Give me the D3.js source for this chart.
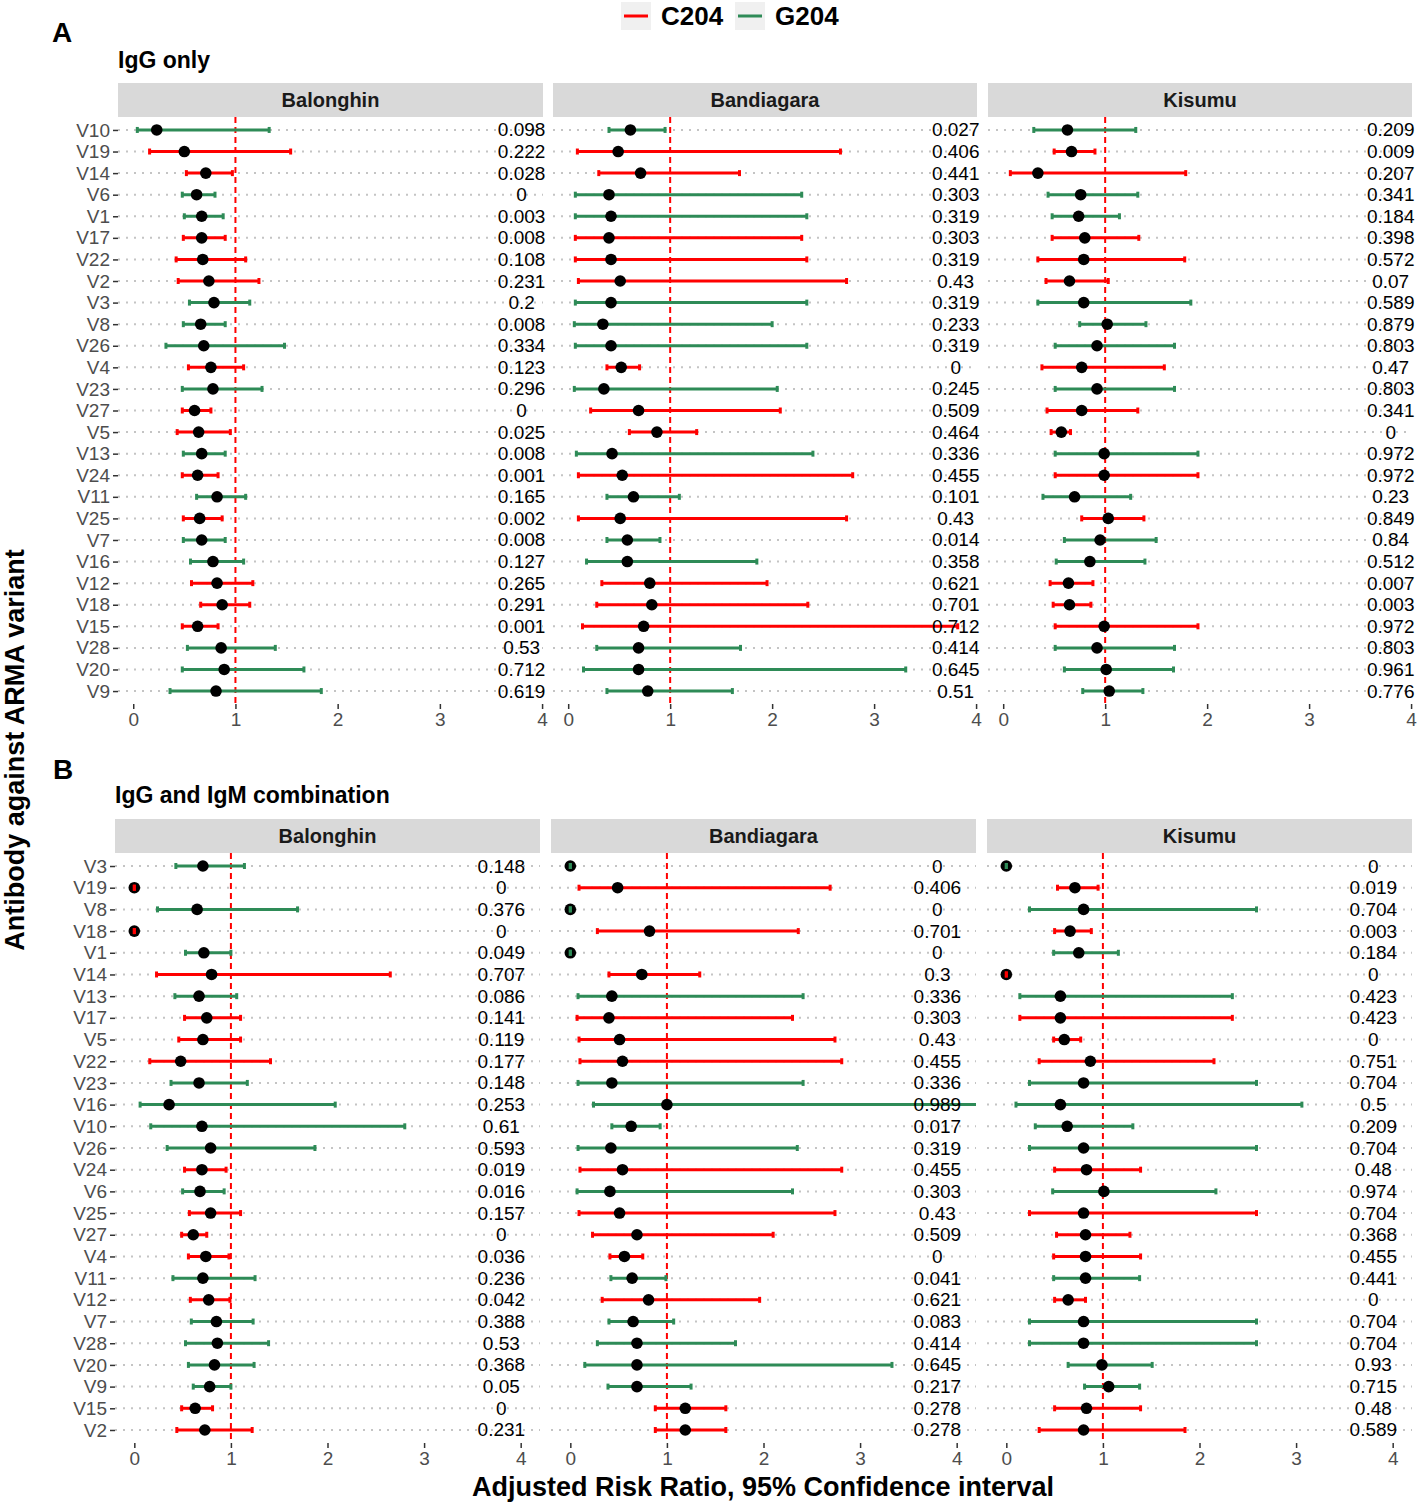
<!DOCTYPE html>
<html>
<head>
<meta charset="utf-8">
<script src="https://cdn.jsdelivr.net/npm/d3@7"></script>
<style>
  body { margin: 0; background: #fff; }
  text { font-family: "Liberation Sans", Arial, Helvetica, sans-serif; }
</style>
</head>
<body>
<div id="chart"></div>
<script>
// ---- data ----
const variantsA = ["V10","V19","V14","V6","V1","V17","V22","V2","V3","V8","V26","V4","V23","V27","V5","V13","V24","V11","V25","V7","V16","V12","V18","V15","V28","V20","V9"];
const variantsB = ["V3","V19","V8","V18","V1","V14","V13","V17","V5","V22","V23","V16","V10","V26","V24","V6","V25","V27","V4","V11","V12","V7","V28","V20","V9","V15","V2"];
// variants carrying the C204 allele, the rest are G204
const c204Variants = ["V19","V14","V17","V22","V2","V4","V27","V5","V24","V25","V12","V18","V15"];
const sites = ["Balonghin","Bandiagara","Kisumu"];
const xTicks = [0,1,2,3,4];

// A: IgG only
const aBalonghinRR = [0.23,0.50,0.71,0.62,0.67,0.67,0.68,0.74,0.79,0.66,0.69,0.76,0.78,0.60,0.64,0.67,0.63,0.82,0.65,0.67,0.78,0.82,0.87,0.63,0.86,0.89,0.81];
const aBalonghinLo = [0.04,0.16,0.52,0.48,0.50,0.49,0.42,0.44,0.55,0.49,0.32,0.54,0.48,0.48,0.43,0.49,0.48,0.62,0.49,0.49,0.56,0.57,0.66,0.48,0.53,0.48,0.36];
const aBalonghinHi = [1.33,1.54,0.97,0.80,0.88,0.90,1.10,1.23,1.14,0.90,1.48,1.08,1.26,0.76,0.95,0.90,0.83,1.10,0.87,0.90,1.08,1.17,1.14,0.83,1.39,1.67,1.84];
const aBalonghinP  = ["0.098","0.222","0.028","0","0.003","0.008","0.108","0.231","0.2","0.008","0.334","0.123","0.296","0","0.025","0.008","0.001","0.165","0.002","0.008","0.127","0.265","0.291","0.001","0.53","0.712","0.619"];

const aBandiagaraRR = [0.61,0.49,0.71,0.40,0.42,0.40,0.42,0.51,0.42,0.34,0.42,0.52,0.35,0.69,0.87,0.43,0.53,0.64,0.51,0.58,0.58,0.80,0.82,0.74,0.69,0.69,0.78];
const aBandiagaraLo = [0.40,0.09,0.30,0.07,0.07,0.07,0.07,0.10,0.07,0.06,0.07,0.38,0.06,0.22,0.60,0.08,0.10,0.38,0.10,0.38,0.18,0.33,0.28,0.14,0.28,0.15,0.38];
const aBandiagaraHi = [0.95,2.67,1.68,2.29,2.34,2.29,2.34,2.73,2.34,2.00,2.34,0.70,2.05,2.08,1.26,2.40,2.79,1.09,2.73,0.90,1.85,1.95,2.35,3.82,1.69,3.31,1.61];
const aBandiagaraP  = ["0.027","0.406","0.441","0.303","0.319","0.303","0.319","0.43","0.319","0.233","0.319","0","0.245","0.509","0.464","0.336","0.455","0.101","0.43","0.014","0.358","0.621","0.701","0.712","0.414","0.645","0.51"];

const aKisumuRR = [0.63,0.67,0.34,0.76,0.74,0.80,0.79,0.65,0.79,1.02,0.92,0.77,0.92,0.77,0.57,0.99,0.99,0.70,1.03,0.95,0.85,0.64,0.65,0.99,0.92,1.01,1.04];
const aKisumuLo = [0.30,0.50,0.07,0.44,0.48,0.48,0.34,0.42,0.34,0.75,0.51,0.38,0.51,0.43,0.47,0.51,0.51,0.39,0.77,0.60,0.52,0.46,0.49,0.51,0.51,0.60,0.78];
const aKisumuHi = [1.30,0.90,1.79,1.32,1.14,1.33,1.78,1.03,1.84,1.40,1.68,1.58,1.68,1.32,0.66,1.91,1.91,1.25,1.38,1.50,1.39,0.88,0.86,1.91,1.68,1.67,1.37];
const aKisumuP  = ["0.209","0.009","0.207","0.341","0.184","0.398","0.572","0.07","0.589","0.879","0.803","0.47","0.803","0.341","0","0.972","0.972","0.23","0.849","0.84","0.512","0.007","0.003","0.972","0.803","0.961","0.776"];

// B: IgG and IgM combination
const bBalonghinRR = [0.71,0,0.65,0,0.72,0.80,0.67,0.75,0.71,0.48,0.67,0.36,0.70,0.79,0.70,0.68,0.79,0.61,0.74,0.71,0.77,0.85,0.86,0.83,0.78,0.63,0.73];
const bBalonghinLo = [0.43,0,0.24,0,0.53,0.23,0.42,0.52,0.46,0.16,0.38,0.06,0.17,0.34,0.52,0.50,0.57,0.49,0.56,0.40,0.58,0.59,0.53,0.56,0.61,0.49,0.44];
const bBalonghinHi = [1.14,0,1.69,0,1.00,2.65,1.06,1.10,1.10,1.41,1.17,2.08,2.80,1.87,0.95,0.93,1.10,0.75,0.98,1.25,0.99,1.23,1.39,1.24,1.00,0.81,1.22];
const bBalonghinP  = ["0.148","0","0.376","0","0.049","0.707","0.086","0.141","0.119","0.177","0.148","0.253","0.61","0.593","0.019","0.016","0.157","0","0.036","0.236","0.042","0.388","0.53","0.368","0.05","0","0.231"];

const bBandiagaraRR = [0,0.49,0,0.82,0,0.74,0.43,0.40,0.51,0.54,0.43,1.00,0.63,0.42,0.54,0.41,0.51,0.69,0.56,0.64,0.81,0.65,0.69,0.69,0.69,1.19,1.19];
const bBandiagaraLo = [0,0.09,0,0.28,0,0.40,0.08,0.07,0.09,0.10,0.08,0.24,0.43,0.08,0.10,0.07,0.09,0.23,0.41,0.42,0.33,0.40,0.28,0.15,0.39,0.88,0.88];
const bBandiagaraHi = [0,2.69,0,2.36,0,1.34,2.41,2.30,2.74,2.81,2.41,4.60,0.93,2.35,2.81,2.30,2.74,2.10,0.75,0.99,1.96,1.07,1.71,3.33,1.25,1.61,1.61];
const bBandiagaraP  = ["0","0.406","0","0.701","0","0.3","0.336","0.303","0.43","0.455","0.336","0.989","0.017","0.319","0.455","0.303","0.43","0.509","0","0.041","0.621","0.083","0.414","0.645","0.217","0.278","0.278"];

const bKisumuRR = [0,0.71,0.80,0.66,0.75,0,0.56,0.56,0.60,0.87,0.80,0.56,0.63,0.80,0.83,1.01,0.80,0.82,0.82,0.82,0.64,0.80,0.80,0.99,1.06,0.83,0.80];
const bKisumuLo = [0,0.53,0.24,0.50,0.49,0,0.14,0.14,0.49,0.34,0.24,0.10,0.30,0.24,0.50,0.48,0.24,0.52,0.49,0.49,0.50,0.24,0.24,0.64,0.81,0.50,0.34];
const bKisumuHi = [0,0.95,2.59,0.88,1.16,0,2.34,2.34,0.77,2.15,2.59,3.06,1.31,2.59,1.39,2.17,2.59,1.28,1.39,1.38,0.82,2.59,2.59,1.51,1.38,1.39,1.85];
const bKisumuP  = ["0","0.019","0.704","0.003","0.184","0","0.423","0.423","0","0.751","0.704","0.5","0.209","0.704","0.48","0.974","0.704","0.368","0.455","0.441","0","0.704","0.704","0.93","0.715","0.48","0.589"];

// ---- drawing ----
const W = 1417, H = 1504;
const colC = "#FF0000", colG = "#2E8B57";

const svg = d3.select("#chart").append("svg")
  .attr("width", W).attr("height", H);

function rowsOf(variants, rr, lo, hi, p) {
  return variants.map((v, i) => ({
    v: v, rr: rr[i], lo: lo[i], hi: hi[i], p: p[i],
    col: c204Variants.includes(v) ? colC : colG
  }));
}

let clipId = 0;
function drawPanel(cfg) {
  cfg.facets.forEach((f, k) => {
    const [x0, x1] = cfg.xs[k];
    const x = d3.scaleLinear().domain(cfg.domain).range([x0, x1]);
    const y = d3.scalePoint().domain(cfg.variants)
      .range([cfg.panelTop, cfg.panelBottom]).padding(0.6);
    const g = svg.append("g");

    // strip
    g.append("rect").attr("x", x0).attr("y", cfg.stripTop)
      .attr("width", x1 - x0).attr("height", cfg.panelTop - cfg.stripTop)
      .attr("fill", "#d9d9d9");
    g.append("text").attr("x", (x0 + x1) / 2).attr("y", (cfg.stripTop + cfg.panelTop) / 2)
      .attr("text-anchor", "middle").attr("dominant-baseline", "central")
      .attr("font-size", 20).attr("font-weight", "bold").attr("fill", "#1a1a1a")
      .text(f.name);

    // dotted grid
    g.selectAll(".grid").data(cfg.variants).enter().append("line")
      .attr("x1", x0).attr("x2", x1)
      .attr("y1", d => y(d)).attr("y2", d => y(d))
      .attr("stroke", "#c4c4c4").attr("stroke-width", 2)
      .attr("stroke-dasharray", "2,6");

    // reference line at 1
    g.append("line").attr("x1", x(1)).attr("x2", x(1))
      .attr("y1", cfg.panelTop).attr("y2", cfg.panelBottom)
      .attr("stroke", "#FF0000").attr("stroke-width", 2)
      .attr("stroke-dasharray", "6,4");

    const id = "clip" + (clipId++);
    svg.append("clipPath").attr("id", id).append("rect")
      .attr("x", x0).attr("y", cfg.panelTop)
      .attr("width", x1 - x0).attr("height", cfg.panelBottom - cfg.panelTop);
    const m = g.append("g").attr("clip-path", "url(#" + id + ")");

    // error bars
    m.selectAll(".bar").data(f.rows).enter().append("line")
      .attr("x1", d => x(d.lo)).attr("x2", d => x(d.hi))
      .attr("y1", d => y(d.v)).attr("y2", d => y(d.v))
      .attr("stroke", d => d.col).attr("stroke-width", 3);

    // points
    m.selectAll(".dot").data(f.rows).enter().append("circle")
      .attr("cx", d => x(d.rr)).attr("cy", d => y(d.v))
      .attr("r", 5.8).attr("fill", "#000");

    // caps
    ["lo", "hi"].forEach(key => {
      m.selectAll(".cap-" + key).data(f.rows).enter().append("line")
        .attr("x1", d => x(d[key])).attr("x2", d => x(d[key]))
        .attr("y1", d => y(d.v) - 3).attr("y2", d => y(d.v) + 3)
        .attr("stroke", d => d.col).attr("stroke-width", 3);
    });

    // p-values
    g.selectAll(".pv").data(f.rows).enter().append("text")
      .attr("x", x(3.8)).attr("y", d => y(d.v))
      .attr("text-anchor", "middle").attr("dominant-baseline", "central")
      .attr("font-size", 19).attr("fill", "#000")
      .text(d => d.p);

    // x axis
    const ax = g.append("g").attr("transform", "translate(0," + cfg.panelBottom + ")")
      .call(d3.axisBottom(x).tickValues(xTicks).tickFormat(d3.format("d")).tickSize(5).tickPadding(4));
    ax.select(".domain").remove();
    ax.selectAll("line").attr("stroke", "#333").attr("stroke-width", 1.5);
    ax.selectAll("text").attr("font-size", 19).attr("fill", "#4d4d4d")
      .attr("font-family", "Liberation Sans, Arial, sans-serif");

    // y axis on first facet only
    if (k === 0) {
      const ay = g.append("g").attr("transform", "translate(" + x0 + ",0)")
        .call(d3.axisLeft(y).tickSize(5).tickPadding(3));
      ay.select(".domain").remove();
      ay.selectAll("line").attr("stroke", "#333").attr("stroke-width", 1.5);
      ay.selectAll("text").attr("font-size", 19).attr("fill", "#4d4d4d")
        .attr("font-family", "Liberation Sans, Arial, sans-serif");
    }
  });
}

// panel A
const factsA = [
  { name: sites[0], rows: rowsOf(variantsA, aBalonghinRR, aBalonghinLo, aBalonghinHi, aBalonghinP) },
  { name: sites[1], rows: rowsOf(variantsA, aBandiagaraRR, aBandiagaraLo, aBandiagaraHi, aBandiagaraP) },
  { name: sites[2], rows: rowsOf(variantsA, aKisumuRR, aKisumuLo, aKisumuHi, aKisumuP) }
];
const extA = d3.extent(factsA.flatMap(f => f.rows.flatMap(r => [r.lo, r.hi])));
const padA = (extA[1] - extA[0]) * 0.05;
drawPanel({
  variants: variantsA, facets: factsA,
  domain: [extA[0] - padA, extA[1] + padA],
  xs: [[118, 543], [553, 977], [988, 1412]],
  stripTop: 83, panelTop: 117, panelBottom: 704
});

// panel B (x limited to 0..4, with default expansion)
const factsB = [
  { name: sites[0], rows: rowsOf(variantsB, bBalonghinRR, bBalonghinLo, bBalonghinHi, bBalonghinP) },
  { name: sites[1], rows: rowsOf(variantsB, bBandiagaraRR, bBandiagaraLo, bBandiagaraHi, bBandiagaraP) },
  { name: sites[2], rows: rowsOf(variantsB, bKisumuRR, bKisumuLo, bKisumuHi, bKisumuP) }
];
drawPanel({
  variants: variantsB, facets: factsB,
  domain: [-0.2, 4.2],
  xs: [[115, 540], [551, 976], [987, 1412]],
  stripTop: 819, panelTop: 853, panelBottom: 1443
});

// titles
svg.append("text").attr("x", 52).attr("y", 42).attr("font-size", 28)
  .attr("font-weight", "bold").text("A");
svg.append("text").attr("x", 118).attr("y", 68).attr("font-size", 23)
  .attr("font-weight", "bold").text("IgG only");
svg.append("text").attr("x", 53).attr("y", 779).attr("font-size", 28)
  .attr("font-weight", "bold").text("B");
svg.append("text").attr("x", 115).attr("y", 803).attr("font-size", 23)
  .attr("font-weight", "bold").text("IgG and IgM combination");

svg.append("text").attr("x", 763).attr("y", 1496).attr("text-anchor", "middle")
  .attr("font-size", 27).attr("font-weight", "bold")
  .text("Adjusted Risk Ratio, 95% Confidence interval");
svg.append("text").attr("transform", "translate(15,750) rotate(-90)")
  .attr("text-anchor", "middle").attr("dominant-baseline", "central")
  .attr("font-size", 27).attr("font-weight", "bold")
  .text("Antibody against ARMA variant");

// legend
const legendItems = [{ label: "C204", col: colC, x: 621 }, { label: "G204", col: colG, x: 735 }];
const lg = svg.append("g");
legendItems.forEach(it => {
  lg.append("rect").attr("x", it.x).attr("y", 2).attr("width", 30).attr("height", 28)
    .attr("fill", "#f0f0f0");
  lg.append("line").attr("x1", it.x + 3).attr("x2", it.x + 27)
    .attr("y1", 16).attr("y2", 16).attr("stroke", it.col).attr("stroke-width", 3);
  lg.append("text").attr("x", it.x + 40).attr("y", 16).attr("dominant-baseline", "central")
    .attr("font-size", 26).attr("font-weight", "bold").text(it.label);
});
</script>
</body>
</html>
